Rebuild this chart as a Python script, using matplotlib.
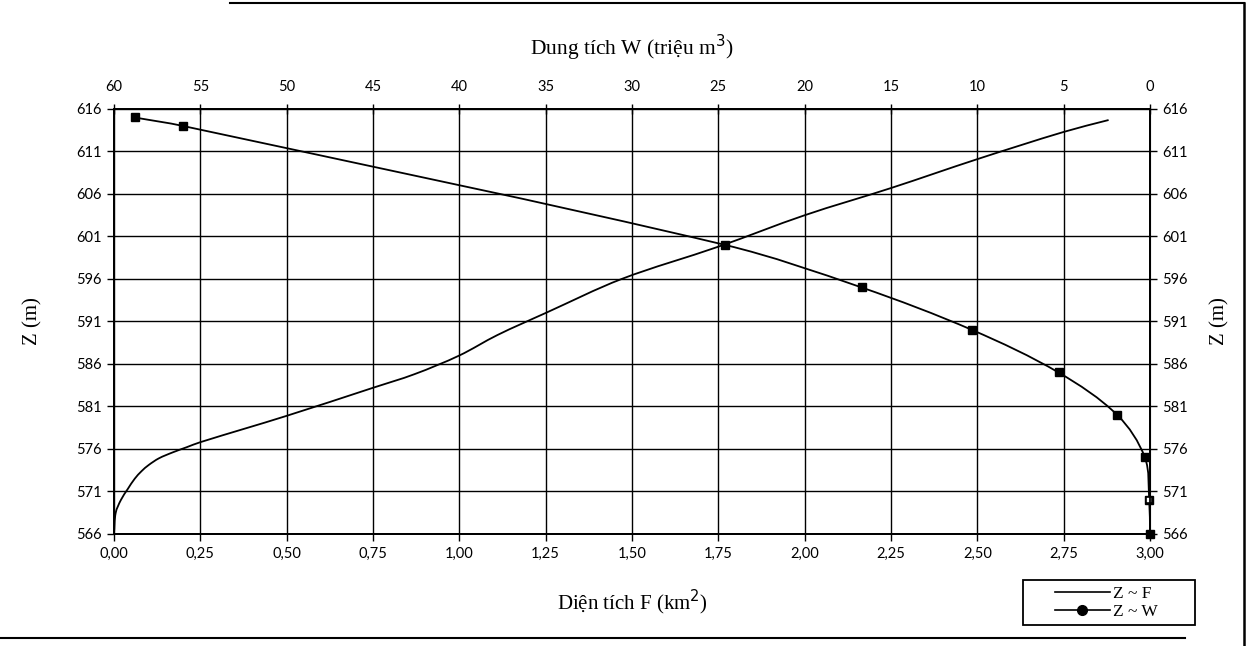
import numpy as np
import matplotlib
matplotlib.use("Agg")
import matplotlib.pyplot as plt
from matplotlib.path import Path
from matplotlib.patches import PathPatch, Rectangle
from matplotlib.lines import Line2D
from matplotlib.ticker import FuncFormatter

# ---- data ----
F_area = [0.0, 0.005, 0.02, 0.04, 0.06, 0.08, 0.10, 0.13, 0.17, 0.21, 0.25, 0.50, 0.75, 0.87,
          1.00, 1.11, 1.25, 1.47, 1.75, 2.00, 2.25, 2.50, 2.75, 2.88]
Z_F = [566.0, 568.5, 570.0, 571.3, 572.5, 573.4, 574.1, 574.9, 575.6, 576.2, 576.8, 579.9, 583.2, 584.8,
       587.0, 589.4, 592.0, 596.0, 599.8, 603.5, 606.7, 610.1, 613.3, 614.7]

W_vol = [58.8, 56.0, 24.6, 16.7, 10.3, 5.3, 1.9, 0.3, 0.05, 0.0]
Z_W = [615, 614, 600, 595, 590, 585, 580, 575, 570, 566]

F_ticks = [0.0, 0.25, 0.5, 0.75, 1.0, 1.25, 1.5, 1.75, 2.0, 2.25, 2.5, 2.75, 3.0]
W_ticks = [60, 55, 50, 45, 40, 35, 30, 25, 20, 15, 10, 5, 0]
Z_ticks = [566, 571, 576, 581, 586, 591, 596, 601, 606, 611, 616]


def smooth_path(x, y, sx, sy, t=1.0 / 3.0):
    """Smoothed (Excel-like) line as cubic Bezier path through the data points."""
    P = np.column_stack([np.asarray(x, float) * sx, np.asarray(y, float) * sy])
    n = len(P)
    D = np.zeros_like(P)
    for i in range(n):
        a = P[max(i - 1, 0)]
        b = P[min(i + 1, n - 1)]
        d = b - a
        D[i] = d / (np.hypot(*d) or 1.0)
    verts = [P[0]]
    codes = [Path.MOVETO]
    for i in range(n - 1):
        L = np.hypot(*(P[i + 1] - P[i]))
        verts += [P[i] + D[i] * L * t, P[i + 1] - D[i + 1] * L * t, P[i + 1]]
        codes += [Path.CURVE4] * 3
    V = np.array(verts) / np.array([sx, sy])
    return Path(V, codes)


serif = "Liberation Serif"
tickfont = "Lato"
W_PX, H_PX = 1036.0, 425.0

fig = plt.figure(figsize=(12.54, 6.46), dpi=100)
ax = fig.add_axes([0.0909, 0.1734, 0.8262, 0.6579])

ax.set_xlim(0, 3)
ax.set_ylim(566, 616)
ax.set_xticks(F_ticks)
ax.set_yticks(Z_ticks)
ax.xaxis.set_major_formatter(FuncFormatter(lambda v, p: f"{v:.2f}".replace(".", ",")))
ax.grid(True, color="black", lw=1.0)
for s in ax.spines.values():
    s.set_linewidth(1.3)
ax.tick_params(axis="both", direction="out", length=5, width=1.0, labelsize=10.5, pad=4)
for lab in ax.get_xticklabels() + ax.get_yticklabels():
    lab.set_fontfamily(tickfont)
ax.set_xlabel("Diện tích F (km$^2$)", fontfamily=serif, fontsize=15, labelpad=20)
ax.set_ylabel("Z (m)", fontfamily=serif, fontsize=15, labelpad=24)

# Z ~ F curve
pF = PathPatch(smooth_path(F_area, Z_F, W_PX / 3.0, H_PX / 50.0),
               facecolor="none", edgecolor="black", lw=1.3)
ax.add_patch(pF)

# right axis
sec = ax.secondary_yaxis("right")
sec.set_yticks(Z_ticks)
sec.tick_params(direction="out", length=5, width=1.0, labelsize=10.5, pad=4)
for lab in sec.get_yticklabels():
    lab.set_fontfamily(tickfont)
sec.set_ylabel("Z (m)", fontfamily=serif, fontsize=15, labelpad=16)

# top axis for W
ax2 = ax.twiny()
ax2.set_xlim(60, 0)
ax2.set_xticks(W_ticks)
ax2.tick_params(axis="x", direction="inout", length=7, width=1.0, labelsize=10.5, pad=7)
for lab in ax2.get_xticklabels():
    lab.set_fontfamily(tickfont)
ax2.set_xlabel("Dung tích W (triệu m$^3$)", fontfamily=serif, fontsize=15.5, labelpad=18)
for s in ax2.spines.values():
    s.set_linewidth(1.3)

pW = PathPatch(smooth_path(W_vol, Z_W, W_PX / 60.0, H_PX / 50.0),
               facecolor="none", edgecolor="black", lw=1.3)
ax2.add_patch(pW)
ax2.plot(W_vol, Z_W, linestyle="none", marker="s", ms=6, color="black", clip_on=False)
ax2.plot(W_vol[8:9], Z_W[8:9], linestyle="none", marker="s", ms=5, mfc="white",
         mec="black", mew=1.2, clip_on=False)

# legend (content without frame, plus a wide frame like the original)
handles = [Line2D([], [], color="black", lw=1.2),
           Line2D([], [], color="black", lw=1.2, marker="o", ms=7)]
fig.legend(handles, ["Z ~ F", "Z ~ W"], loc="center", bbox_to_anchor=(1106 / 1254, 1 - 603 / 646),
           frameon=False, prop={"family": serif, "size": 12.5}, handlelength=3.2,
           handletextpad=0.15, borderpad=0.0, labelspacing=0.15)
fig.add_artist(Rectangle((1023 / 1254, 1 - 625 / 646), 172 / 1254, 45 / 646,
                         transform=fig.transFigure, facecolor="none", edgecolor="black", lw=1.3))

# outer chart-area frame (partially visible)
fig.add_artist(Line2D([230 / 1254, 1244 / 1254], [1 - 3 / 646, 1 - 3 / 646], color="black", lw=1.5))
fig.add_artist(Line2D([1244 / 1254, 1244 / 1254], [1 - 3 / 646, 0.0], color="black", lw=1.8))
fig.add_artist(Line2D([0.0, 1185 / 1254], [1 - 638 / 646, 1 - 638 / 646], color="black", lw=1.5))

fig.savefig("out.png", dpi=100)
